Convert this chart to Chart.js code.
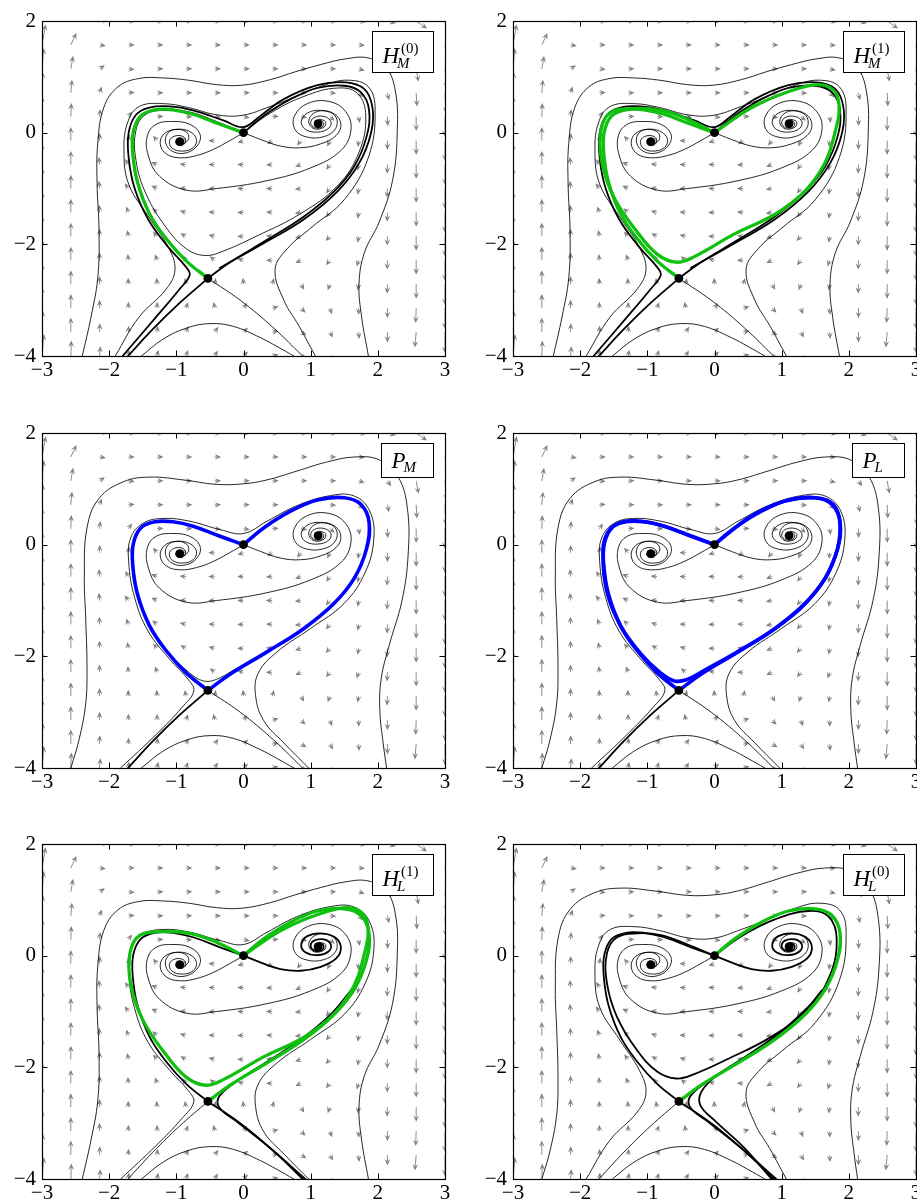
<!DOCTYPE html>
<html>
<head>
<meta charset="utf-8">
<script src="https://cdn.jsdelivr.net/npm/chart.js@4.4.1/dist/chart.umd.min.js"></script>
<style>
  html, body { margin: 0; padding: 0; background: #ffffff; overflow: hidden; width: 917px; height: 1200px; }
  .panel { position: absolute; width: 460px; height: 386px; }
  canvas { display: block; }
</style>
</head>
<body>
<div class="panel" style="left:0px;top:0px"><canvas id="p1" width="460" height="386"></canvas></div>
<div class="panel" style="left:471px;top:0px"><canvas id="p2" width="460" height="386"></canvas></div>
<div class="panel" style="left:0px;top:412px"><canvas id="p3" width="460" height="386"></canvas></div>
<div class="panel" style="left:471px;top:412px"><canvas id="p4" width="460" height="386"></canvas></div>
<div class="panel" style="left:0px;top:823px"><canvas id="p5" width="460" height="386"></canvas></div>
<div class="panel" style="left:471px;top:823px"><canvas id="p6" width="460" height="386"></canvas></div>
<script>
// ---------- axes ----------
const xTicks = [-3, -2, -1, 0, 1, 2, 3];
const yTicks = [-4, -2, 0, 2];

// ---------- direction field grid ----------
const gridX = [-3, -2.571, -2.143, -1.714, -1.286, -0.857, -0.429, 0, 0.429, 0.857, 1.286, 1.714, 2.143, 2.571, 3];
const gridY = [2, 1.571, 1.143, 0.714, 0.286, -0.143, -0.571, -1, -1.429, -1.857, -2.286, -2.714, -3.143, -3.571, -4];
// direction of the field (degrees, counter-clockwise from +x), one row per gridY
const fieldAngle = [
  [72, 55, 10, 0, 0, 0, 0, 0, 0, 0, 0, -5, -15, -35, -60],
  [80, 65, -10, 0, 0, 0, 0, 0, 0, 0, 0, -5, -30, -65, -80],
  [85, 80, 35, -5, 0, 0, 0, 0, 0, 0, 0, -15, -55, -80, -85],
  [88, 85, 70, 5, 0, 0, 0, 0, 0, 0, -5, -45, -78, -87, -88],
  [90, 88, 85, 55, 5, 0, -5, -10, 5, -10, -40, -80, -88, -90, -90],
  [90, 90, 88, 80, 130, 170, 180, 200, 215, 230, 245, 265, 270, 270, 270],
  [90, 90, 95, 120, 160, 175, 180, 180, 185, 200, 235, 260, 268, 270, 270],
  [90, 90, 95, 125, 155, 175, 180, 180, 180, 190, 230, 262, 268, 270, 270],
  [90, 90, 92, 110, 140, 165, 175, 180, 175, 190, 232, 263, 268, 270, 270],
  [90, 90, 90, 100, 130, 150, 165, 178, 175, 200, 228, 262, 268, 270, 270],
  [90, 90, 90, 95, 110, 125, 140, 165, 180, 205, 232, 252, 268, 270, 270],
  [90, 90, 90, 92, 95, 100, 80, 95, 75, 300, 250, 262, 268, 270, 270],
  [90, 90, 90, 90, 90, 70, 100, 55, 15, 315, 290, 272, 270, 268, 270],
  [88, 90, 88, 88, 85, 65, 55, 45, 10, 330, 300, 275, 270, 265, 270],
  [85, 88, 85, 85, 80, 70, 60, 45, 15, 340, 305, 280, 270, 265, 270]
];
// relative strength of the field
const fieldMag = [
  [1.0, 0.75, 0.4, 0.32, 0.3, 0.3, 0.3, 0.3, 0.3, 0.3, 0.32, 0.35, 0.4, 0.6, 0.9],
  [0.95, 0.6, 0.25, 0.25, 0.25, 0.25, 0.25, 0.25, 0.25, 0.25, 0.25, 0.28, 0.3, 0.55, 0.9],
  [0.95, 0.6, 0.22, 0.22, 0.22, 0.22, 0.22, 0.22, 0.22, 0.22, 0.22, 0.22, 0.3, 0.6, 0.9],
  [0.95, 0.6, 0.3, 0.2, 0.2, 0.2, 0.2, 0.2, 0.2, 0.2, 0.2, 0.22, 0.35, 0.62, 0.92],
  [0.95, 0.62, 0.35, 0.18, 0.15, 0.12, 0.12, 0.1, 0.12, 0.15, 0.18, 0.28, 0.42, 0.65, 0.92],
  [0.95, 0.62, 0.35, 0.2, 0.1, 0.08, 0.1, 0.08, 0.1, 0.12, 0.18, 0.28, 0.42, 0.65, 0.92],
  [0.95, 0.62, 0.35, 0.2, 0.15, 0.15, 0.15, 0.15, 0.15, 0.15, 0.18, 0.28, 0.42, 0.65, 0.92],
  [0.95, 0.62, 0.35, 0.2, 0.15, 0.15, 0.15, 0.15, 0.15, 0.15, 0.18, 0.28, 0.42, 0.65, 0.92],
  [0.95, 0.62, 0.35, 0.2, 0.15, 0.15, 0.15, 0.15, 0.15, 0.15, 0.18, 0.28, 0.42, 0.65, 0.92],
  [0.95, 0.62, 0.35, 0.2, 0.15, 0.15, 0.15, 0.15, 0.15, 0.15, 0.18, 0.28, 0.42, 0.65, 0.92],
  [0.95, 0.62, 0.36, 0.2, 0.15, 0.13, 0.13, 0.14, 0.14, 0.15, 0.18, 0.28, 0.42, 0.65, 0.93],
  [0.95, 0.63, 0.37, 0.21, 0.15, 0.1, 0.1, 0.1, 0.1, 0.12, 0.18, 0.28, 0.43, 0.66, 0.94],
  [0.96, 0.64, 0.38, 0.22, 0.16, 0.12, 0.1, 0.12, 0.12, 0.14, 0.2, 0.3, 0.45, 0.68, 0.95],
  [0.97, 0.66, 0.4, 0.25, 0.2, 0.15, 0.15, 0.15, 0.15, 0.18, 0.22, 0.32, 0.47, 0.7, 0.96],
  [1.0, 0.7, 0.45, 0.3, 0.25, 0.22, 0.2, 0.2, 0.2, 0.22, 0.25, 0.35, 0.5, 0.72, 1.0]
];

// ---------- equilibria ----------
const equilibria = [[0, 0], [-0.53, -2.61], [-0.95, -0.16], [1.11, 0.16]];

// ---------- trajectories (x, y) ----------
const outerSmall = [[-2.4,-4],[-2.27,-3.3],[-2.17,-2.6],[-2.15,-1.8],[-2.18,-0.9],[-2.17,-0.2],[-2.08,0.45],[-1.87,0.82],[-1.56,0.97],[-1.2,0.98],[-0.82,0.94],[-0.4,0.86],[-0.02,0.85],[0.4,0.95],[0.77,1.09],[1.15,1.22],[1.51,1.32],[1.85,1.34],[2.12,1.17],[2.26,0.75],[2.29,0.05],[2.22,-0.85],[2.02,-1.6],[1.8,-2.15],[1.72,-2.71],[1.76,-3.31],[1.86,-4]];
const outerLarge = [[-2.57,-4],[-2.45,-3.5],[-2.35,-2.85],[-2.33,-2.2],[-2.35,-1.3],[-2.37,-0.6],[-2.33,0.3],[-2.15,0.83],[-1.78,1.13],[-1.39,1.21],[-0.9,1.16],[-0.4,1.08],[0.0,1.09],[0.35,1.16],[0.8,1.32],[1.24,1.48],[1.65,1.57],[2.02,1.52],[2.3,1.22],[2.44,0.65],[2.45,-0.2],[2.36,-1.0],[2.17,-1.8],[2.05,-2.4],[2.03,-2.97],[2.08,-3.56],[2.13,-4]];
const wrapA = [[-1.91,-4],[-1.56,-3.31],[-1.15,-2.8],[-1.02,-2.45],[-1.12,-2.05],[-1.41,-1.51],[-1.71,-0.92],[-1.78,-0.3],[-1.72,0.2],[-1.55,0.47],[-1.2,0.52],[-0.82,0.45],[-0.4,0.32],[-0.02,0.31],[0.4,0.47],[0.77,0.64],[1.2,0.85],[1.56,0.94],[1.86,0.82],[1.96,0.4],[1.86,-0.44],[1.5,-1.2],[1.02,-1.69],[0.65,-2.08],[0.47,-2.45],[0.6,-3.0],[0.82,-3.45],[1.07,-4]];
const wrapB = [[-1.83,-4],[-1.3,-3.4],[-0.92,-2.92],[-0.74,-2.62],[-0.82,-2.42],[-1.1,-2.05],[-1.42,-1.55],[-1.62,-0.95],[-1.71,-0.3],[-1.68,0.12],[-1.5,0.38],[-1.2,0.47],[-0.8,0.42],[-0.35,0.27],[0.0,0.2],[0.35,0.42],[0.8,0.7],[1.3,0.88],[1.65,0.87],[1.88,0.6],[1.94,0.1],[1.81,-0.5],[1.5,-1.05],[1.0,-1.5],[0.5,-1.92],[0.22,-2.3],[0.18,-2.7],[0.3,-3.15],[0.6,-3.55],[0.97,-4]];
const lowerArc = [[-1.52,-4],[-1.2,-3.7],[-0.85,-3.5],[-0.5,-3.42],[-0.15,-3.47],[0.25,-3.67],[0.5,-3.83],[0.75,-4]];
const xArmLeft = [[-0.53,-2.61],[-0.95,-3.05],[-1.35,-3.52],[-1.72,-4]];
const xArmRight = [[-0.53,-2.61],[-0.05,-3.0],[0.45,-3.5],[0.88,-4]];
const s1ToF1 = [[0,0],[-0.2,-0.14],[-0.45,-0.3],[-0.7,-0.41],[-0.95,-0.45],[-1.15,-0.38],[-1.24,-0.2],[-1.18,-0.02],[-1.0,0.06],[-0.8,0.02],[-0.7,-0.12],[-0.75,-0.27],[-0.92,-0.33],[-1.07,-0.27],[-1.1,-0.14],[-1.02,-0.06],[-0.9,-0.07],[-0.86,-0.16],[-0.92,-0.23],[-1.0,-0.2],[-0.99,-0.13],[-0.95,-0.16]];
const s1ToF2 = [[0,0],[0.25,-0.12],[0.55,-0.24],[0.85,-0.27],[1.15,-0.2],[1.38,-0.05],[1.45,0.15],[1.36,0.33],[1.15,0.4],[0.95,0.35],[0.86,0.2],[0.92,0.06],[1.1,0.01],[1.27,0.08],[1.3,0.2],[1.2,0.29],[1.05,0.27],[1.0,0.17],[1.06,0.09],[1.17,0.1],[1.19,0.18],[1.12,0.22],[1.07,0.17],[1.11,0.16]];
const innerLoop = [[-0.9,-0.2],[-0.82,-0.12],[-0.84,0.0],[-0.98,0.06],[-1.12,0.0],[-1.16,-0.18],[-1.05,-0.34],[-0.85,-0.36],[-0.68,-0.22],[-0.65,-0.02],[-0.8,0.15],[-1.05,0.2],[-1.3,0.15],[-1.43,-0.05],[-1.42,-0.4],[-1.25,-0.78],[-0.85,-1.03],[-0.4,-1.0],[0.35,-0.86],[1.0,-0.63],[1.45,-0.32],[1.6,0.05],[1.52,0.38],[1.27,0.56],[0.95,0.52],[0.76,0.3],[0.77,0.05],[0.95,-0.08],[1.2,-0.07],[1.37,0.07],[1.38,0.27],[1.25,0.38],[1.06,0.36],[0.97,0.2],[1.05,0.07],[1.2,0.1],[1.22,0.2],[1.13,0.24]];
const heartLeft = [[0,0],[-0.35,0.15],[-0.75,0.33],[-1.05,0.41],[-1.32,0.41],[-1.53,0.3],[-1.64,0.02],[-1.65,-0.35],[-1.58,-0.88],[-1.4,-1.45],[-1.15,-1.9],[-0.85,-2.3],[-0.53,-2.61]];
const heartRight = [[-0.53,-2.61],[-0.2,-2.32],[0.35,-1.92],[0.9,-1.5],[1.35,-1.05],[1.65,-0.6],[1.83,-0.08],[1.87,0.4],[1.75,0.72],[1.5,0.84],[1.1,0.8],[0.7,0.6],[0.3,0.3],[0,0]];
const roundLoopHigh = [[0,0],[-0.42,0.25],[-0.8,0.4],[-1.21,0.43],[-1.55,0.36],[-1.69,0.05],[-1.68,-0.5],[-1.5,-1.15],[-1.15,-1.78],[-0.85,-2.18],[-0.57,-2.32],[-0.3,-2.22],[0.27,-1.83],[1.02,-1.37],[1.56,-0.72],[1.81,0.08],[1.84,0.6],[1.66,0.84],[1.27,0.8],[0.57,0.46],[0,0]];
const roundLoopLow = [[0,0],[-0.4,0.18],[-0.8,0.35],[-1.1,0.42],[-1.4,0.4],[-1.6,0.2],[-1.66,-0.2],[-1.6,-0.85],[-1.4,-1.45],[-1.1,-1.95],[-0.8,-2.3],[-0.6,-2.44],[-0.42,-2.42],[-0.15,-2.25],[0.4,-1.88],[1.0,-1.42],[1.5,-0.85],[1.8,-0.2],[1.87,0.35],[1.77,0.72],[1.5,0.84],[1.05,0.78],[0.6,0.55],[0.25,0.25],[0,0]];
const roundLoopInner = [[0,0],[-0.4,0.2],[-0.8,0.37],[-1.15,0.4],[-1.45,0.33],[-1.6,0.05],[-1.6,-0.5],[-1.45,-1.1],[-1.15,-1.7],[-0.85,-2.08],[-0.57,-2.2],[-0.3,-2.12],[0.2,-1.85],[0.85,-1.45],[1.4,-0.95],[1.72,-0.35],[1.82,0.3],[1.7,0.7],[1.4,0.8],[0.9,0.65],[0.4,0.35],[0,0]];
const wrapDownLeft = [[-0.35,-2.42],[0.3,-1.98],[0.9,-1.55],[1.4,-1.05],[1.72,-0.55],[1.9,0.0],[1.92,0.45],[1.8,0.78],[1.52,0.9],[1.1,0.85],[0.6,0.6],[0.25,0.3],[0.0,0.1],[-0.3,0.22],[-0.75,0.4],[-1.1,0.47],[-1.4,0.45],[-1.6,0.32],[-1.71,0.0],[-1.71,-0.45],[-1.62,-1.0],[-1.42,-1.55],[-1.12,-2.05],[-0.86,-2.4],[-0.8,-2.55],[-0.95,-2.8],[-1.3,-3.3],[-1.8,-4]];
const hypRightNear = [[1.6,-0.62],[1.3,-1.05],[0.85,-1.5],[0.35,-1.9],[-0.1,-2.25],[-0.36,-2.52],[-0.36,-2.72],[-0.1,-2.97],[0.4,-3.45],[0.92,-4]];
const hypRightFar = [[1.5,-0.8],[1.0,-1.35],[0.5,-1.78],[0.0,-2.18],[-0.2,-2.45],[-0.21,-2.68],[0.0,-2.95],[0.45,-3.45],[0.85,-4]];

// ---------- panel contents ----------
const panels = [
  { id: 'p1', tag: ['H', 'M', '(0)'],
    thin: [outerSmall, wrapA, lowerArc, xArmRight, innerLoop, s1ToF1, s1ToF2, roundLoopInner],
    thick: [wrapDownLeft, heartRight, xArmLeft],
    green: [heartLeft], blue: [] },
  { id: 'p2', tag: ['H', 'M', '(1)'],
    thin: [outerSmall, wrapA, lowerArc, xArmRight, innerLoop, s1ToF1, s1ToF2],
    thick: [wrapDownLeft, heartRight, xArmLeft],
    green: [heartLeft, roundLoopHigh], blue: [] },
  { id: 'p3', tag: ['P', 'M', null],
    thin: [outerLarge, wrapB, lowerArc, xArmRight, innerLoop, s1ToF1, s1ToF2, roundLoopLow],
    thick: [xArmLeft],
    green: [], blue: [heartLeft, heartRight] },
  { id: 'p4', tag: ['P', 'L', null],
    thin: [outerLarge, wrapB, lowerArc, xArmRight, innerLoop, s1ToF1, s1ToF2],
    thick: [xArmLeft],
    green: [], blue: [heartLeft, heartRight, roundLoopLow] },
  { id: 'p5', tag: ['H', 'L', '(1)'],
    thin: [outerSmall, wrapB, lowerArc, xArmLeft, innerLoop, s1ToF1],
    thick: [heartLeft, hypRightNear, xArmRight, s1ToF2],
    green: [roundLoopHigh, heartRight], blue: [] },
  { id: 'p6', tag: ['H', 'L', '(0)'],
    thin: [outerLarge, wrapA, lowerArc, xArmLeft, innerLoop, s1ToF1],
    thick: [heartLeft, roundLoopInner, hypRightNear, hypRightFar, xArmRight, s1ToF2],
    green: [heartRight], blue: [] }
];

// ---------- drawing ----------
const SERIF = "'Liberation Serif', 'DejaVu Serif', serif";
const GREEN = '#10c010';
const BLUE = '#0000ff';
const ARROW_GREY = '#808080';
const ARROW_LEN = 22;

function fmt(v) { return v < 0 ? '\u2212' + Math.abs(v) : String(v); }

function drawArrow(ctx, x0, y0, ang, len) {
  const c = Math.cos(ang), s = -Math.sin(ang);
  const head = 6.4, half = 2.9;
  const x1 = x0 + c * len, y1 = y0 + s * len;
  if (len > head * 0.7) {
    ctx.beginPath();
    ctx.moveTo(x0, y0);
    ctx.lineTo(x1 - c * head * 0.6, y1 - s * head * 0.6);
    ctx.stroke();
  }
  const bx = x1 - c * head, by = y1 - s * head;
  const nx = -s, ny = c;
  ctx.beginPath();
  ctx.moveTo(x1, y1);
  ctx.lineTo(bx + nx * half, by + ny * half);
  ctx.lineTo(x1 - c * head * 0.6, y1 - s * head * 0.6);
  ctx.lineTo(bx - nx * half, by - ny * half);
  ctx.closePath();
  ctx.fill();
}

const fieldPlugin = {
  id: 'field',
  beforeDatasetsDraw(chart) {
    const { ctx, chartArea: a, scales } = chart;
    ctx.save();
    ctx.beginPath();
    ctx.rect(a.left, a.top, a.right - a.left, a.bottom - a.top);
    ctx.clip();
    ctx.strokeStyle = ARROW_GREY;
    ctx.fillStyle = ARROW_GREY;
    ctx.lineWidth = 0.9;
    for (let j = 0; j < gridY.length; j++) {
      for (let i = 0; i < gridX.length; i++) {
        const px = scales.x.getPixelForValue(gridX[i]);
        const py = scales.y.getPixelForValue(gridY[j]);
        const len = Math.max(fieldMag[j][i] * ARROW_LEN, 6.4);
        drawArrow(ctx, px, py, fieldAngle[j][i] * Math.PI / 180, len);
      }
    }
    ctx.restore();
  }
};

const framePlugin = {
  id: 'frame',
  afterDatasetsDraw(chart) {
    const { ctx, chartArea: a, scales } = chart;
    ctx.save();
    ctx.strokeStyle = '#000';
    ctx.lineWidth = 1;
    const T = 5.5;
    ctx.beginPath();
    xTicks.forEach(v => {
      const px = Math.round(scales.x.getPixelForValue(v)) + 0.5;
      ctx.moveTo(px, a.bottom); ctx.lineTo(px, a.bottom - T);
      ctx.moveTo(px, a.top); ctx.lineTo(px, a.top + T);
    });
    yTicks.forEach(v => {
      const py = Math.round(scales.y.getPixelForValue(v)) + 0.5;
      ctx.moveTo(a.left, py); ctx.lineTo(a.left + T, py);
      ctx.moveTo(a.right, py); ctx.lineTo(a.right - T, py);
    });
    ctx.stroke();
    ctx.lineWidth = 1.2;
    ctx.strokeRect(Math.round(a.left) + 0.5, Math.round(a.top) + 0.5,
                   Math.round(a.right - a.left), Math.round(a.bottom - a.top));
    ctx.restore();
  }
};

const tagPlugin = {
  id: 'tag',
  afterDraw(chart, args, opts) {
    const { ctx, chartArea: a } = chart;
    const [base, sub, sup] = opts.label;
    const w = sup ? 61 : 52, h = sup ? 41 : 34;
    const bx = Math.round(a.right - 12 - w) + 0.5, by = Math.round(a.top + 10) + 0.5;
    ctx.save();
    ctx.fillStyle = '#fff';
    ctx.fillRect(bx, by, w, h);
    ctx.strokeStyle = '#000';
    ctx.lineWidth = 1;
    ctx.strokeRect(bx, by, w, h);
    ctx.fillStyle = '#000';
    ctx.textBaseline = 'alphabetic';
    ctx.textAlign = 'left';
    ctx.font = 'italic 23px ' + SERIF;
    const baseX = bx + 10;
    const baseY = by + (sup ? 31 : 24);
    ctx.fillText(base, baseX, baseY);
    const wb = ctx.measureText(base).width;
    ctx.font = 'italic 15px ' + SERIF;
    ctx.fillText(sub, baseX + wb - 2, baseY + (sup ? 5 : 4));
    if (sup) {
      ctx.font = '15px ' + SERIF;
      ctx.fillText(sup, baseX + wb + 2, baseY - 10);
    }
    ctx.restore();
  }
};

function curve(a, color, width, order) {
  return {
    data: a.map(p => ({ x: p[0], y: p[1] })),
    showLine: true, pointRadius: 0, pointHoverRadius: 0,
    borderColor: color, borderWidth: width, tension: 0.4,
    fill: false, order: order, borderCapStyle: 'round', borderJoinStyle: 'round'
  };
}

panels.forEach(p => {
  const ds = [];
  p.thin.forEach(c => ds.push(curve(c, '#000', 0.85, 4)));
  p.thick.forEach(c => ds.push(curve(c, '#000', 1.8, 3)));
  p.green.forEach(c => ds.push(curve(c, GREEN, 3.3, 2)));
  p.blue.forEach(c => ds.push(curve(c, BLUE, 3.6, 2)));
  ds.push({
    data: equilibria.map(e => ({ x: e[0], y: e[1] })),
    showLine: false, pointRadius: 4.4, pointHoverRadius: 4.4,
    pointBackgroundColor: '#000', pointBorderColor: '#000', pointBorderWidth: 0, order: 0
  });

  new Chart(document.getElementById(p.id), {
    type: 'scatter',
    data: { datasets: ds },
    plugins: [fieldPlugin, framePlugin, tagPlugin],
    options: {
      responsive: false,
      animation: false,
      devicePixelRatio: 1,
      events: [],
      layout: { padding: { top: 21, right: 15, bottom: 0, left: 0 } },
      plugins: { legend: { display: false }, tooltip: { enabled: false }, tag: { label: p.tag } },
      scales: {
        x: {
          type: 'linear', min: -3, max: 3,
          afterBuildTicks: s => { s.ticks = xTicks.map(v => ({ value: v })); },
          afterFit: s => { s.height = 30; s.paddingLeft = 0; s.paddingRight = 0; },
          grid: { display: false, drawTicks: false },
          border: { display: false },
          ticks: { color: '#000', font: { family: SERIF, size: 21 }, padding: 2,
                   maxRotation: 0, autoSkip: false, callback: v => fmt(v) }
        },
        y: {
          type: 'linear', min: -4, max: 2,
          afterBuildTicks: s => { s.ticks = yTicks.map(v => ({ value: v })); },
          afterFit: s => { s.width = 42; s.paddingTop = 0; s.paddingBottom = 0; },
          grid: { display: false, drawTicks: false },
          border: { display: false },
          ticks: { color: '#000', font: { family: SERIF, size: 21 }, padding: 6,
                   autoSkip: false, callback: v => fmt(v) }
        }
      }
    }
  });
});
</script>
</body>
</html>
